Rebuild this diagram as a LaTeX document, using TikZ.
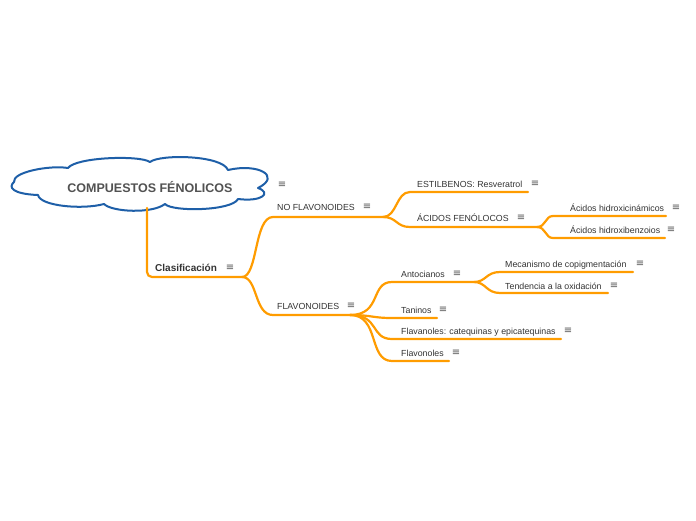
\documentclass[tikz,border=0pt]{standalone}
\usepackage{fontspec}
\setmainfont{Liberation Sans}
\newfontfamily\symfont{DejaVu Sans}
\definecolor{mmorange}{HTML}{FF9C00}
\definecolor{mmblue}{HTML}{1E5FA8}
\definecolor{mmtext}{HTML}{333333}
\definecolor{mmicon}{HTML}{555555}
\tikzset{
  lbl/.style={anchor=base west, inner sep=0pt, text=mmtext, font=\fontsize{8.8}{10}\selectfont},
  boldlbl/.style={anchor=base west, inner sep=0pt, text=mmtext, font=\bfseries\fontsize{10}{12}\selectfont},
  icon/.style={inner sep=0pt, text=mmicon, font=\symfont\fontsize{10}{10}\selectfont},
  branch/.style={draw=mmorange, line width=2.2pt, line cap=round},
  cloudline/.style={draw=mmblue, line width=2pt, fill=white, line join=round}
}
\begin{document}
\begin{tikzpicture}[x=1pt,y=-1pt]
\useasboundingbox (0,0) rectangle (696,520);

% cloud
\path[cloudline] (14,182)
  .. controls (12,172) and (50,165) .. (68,168)
  .. controls (76,157) and (140,155) .. (150,162)
  .. controls (160,154) and (222,155) .. (228,170)
  .. controls (258,163) and (282,176) .. (258,188)
  .. controls (272,193) and (262,202) .. (238,199)
  .. controls (232,211) and (172,212) .. (165,204)
  .. controls (152,214) and (112,212) .. (104,204)
  .. controls (82,210) and (40,206) .. (38,195)
  .. controls (12,194) and (8,187) .. (14,182) -- cycle;
\node[inner sep=0pt, text=mmtext!85!white, font=\bfseries\fontsize{12.5}{14}\selectfont] (root) at (150,187) {COMPUESTOS FÉNOLICOS};
\node[icon] (iroot) at (282,185) {≡};

% coordinates
\coordinate (cb) at (147,208);
\coordinate (clB) at (242,277);
\coordinate (nfA) at (273,217);
\coordinate (nfB) at (383,217);
\coordinate (flA) at (273,315);
\coordinate (flB) at (350,315);
\coordinate (esA) at (410,192);
\coordinate (esB) at (528,192);
\coordinate (acA) at (410,227);
\coordinate (acB) at (537,227);
\coordinate (hcA) at (553,216);
\coordinate (hcB) at (666,216);
\coordinate (hbA) at (553,238);
\coordinate (hbB) at (665,238);
\coordinate (anA) at (392,282);
\coordinate (anB) at (474,282);
\coordinate (meA) at (500,272);
\coordinate (meB) at (633,272);
\coordinate (teA) at (500,293);
\coordinate (teB) at (608,293);
\coordinate (taA) at (392,318);
\coordinate (taB) at (437,318);
\coordinate (fvA) at (392,339);
\coordinate (fvB) at (561,339);
\coordinate (foA) at (392,361);
\coordinate (foB) at (449,361);

% connectors
\draw[branch] (cb) -- (147,272) to[out=-90,in=180] (152,277) -- (clB);
\draw[branch] (clB) .. controls (258,277) and (254,217) .. (nfA) -- (nfB);
\draw[branch] (clB) .. controls (258,277) and (254,315) .. (flA) -- (flB);
\draw[branch] (nfB) .. controls (397,217) and (396,192) .. (esA) -- (esB);
\draw[branch] (nfB) .. controls (397,217) and (396,227) .. (acA) -- (acB);
\draw[branch] (acB) .. controls (546,227) and (545,216) .. (hcA) -- (hcB);
\draw[branch] (acB) .. controls (546,227) and (545,238) .. (hbA) -- (hbB);
\draw[branch] (flB) .. controls (382,315) and (370,282) .. (anA) -- (anB);
\draw[branch] (flB) .. controls (372,315) and (372,318) .. (taA) -- (taB);
\draw[branch] (flB) .. controls (380,315) and (370,339) .. (fvA) -- (fvB);
\draw[branch] (flB) .. controls (380,315) and (368,361) .. (foA) -- (foB);
\draw[branch] (anB) .. controls (486,282) and (486,272) .. (meA) -- (meB);
\draw[branch] (anB) .. controls (486,282) and (486,293) .. (teA) -- (teB);

% labels
\node[boldlbl] (cl) at (155,271.5) {Clasificación};
\node[icon] (icl) at (230,268) {≡};
\node[lbl] (nf) at (277,210) {NO FLAVONOIDES};
\node[icon] (inf) at (367,207) {≡};
\node[lbl] (fl) at (277,309) {FLAVONOIDES};
\node[icon] (ifl) at (351,306) {≡};
\node[lbl] (es) at (417,187) {ESTILBENOS: Resveratrol};
\node[icon] (ies) at (535,184) {≡};
\node[lbl] (ac) at (417,221.5) {ÁCIDOS FENÓLOCOS};
\node[icon] (iac) at (521,218) {≡};
\node[lbl] (hc) at (570,211) {Ácidos hidroxicinámicos};
\node[icon] (ihc) at (676,208) {≡};
\node[lbl] (hb) at (570,233) {Ácidos hidroxibenzoios};
\node[icon] (ihb) at (671,230) {≡};
\node[lbl] (an) at (401,277) {Antocianos};
\node[icon] (ian) at (457,274) {≡};
\node[lbl] (me) at (505,267) {Mecanismo de copigmentación};
\node[icon] (ime) at (640,264) {≡};
\node[lbl] (te) at (505,289) {Tendencia a la oxidación};
\node[icon] (ite) at (614,286) {≡};
\node[lbl] (ta) at (401,313) {Taninos};
\node[icon] (ita) at (443,310) {≡};
\node[lbl] (fv) at (401,334.5) {Flavanoles: catequinas y epicatequinas};
\node[icon] (ifv) at (568,331) {≡};
\node[lbl] (fo) at (401,356.5) {Flavonoles};
\node[icon] (ifo) at (456,353) {≡};
\end{tikzpicture}
\end{document}
